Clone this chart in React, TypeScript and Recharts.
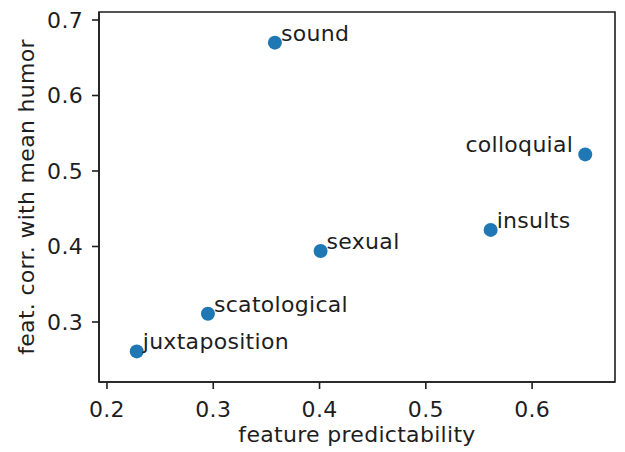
import { ScatterChart, Scatter, XAxis, YAxis, ReferenceArea } from "recharts";

const features = ["sound", "colloquial", "insults", "sexual", "scatological", "juxtaposition"];
const predictability = [0.358, 0.65, 0.561, 0.401, 0.295, 0.228];
const humorCorr = [0.67, 0.522, 0.422, 0.394, 0.311, 0.261];
const xTicks = [0.2, 0.3, 0.4, 0.5, 0.6];
const yTicks = [0.3, 0.4, 0.5, 0.6, 0.7];

const data = features.map((name, i) => ({ name, x: predictability[i], y: humorCorr[i] }));

// labels drawn to the left of the point instead of the right
const leftLabels = ["colloquial"];

const FONT = "'DejaVu Sans', sans-serif";
const TEXT = "#1e1e1e";
const fontStyle = { fontFamily: FONT, fontSize: 22, letterSpacing: 0.3 };

const Dot = (props: any) => {
  const { cx, cy, payload } = props;
  const left = leftLabels.includes(payload.name);
  return (
    <g>
      <circle cx={cx} cy={cy} r={7} fill="#1f77b4" />
      <text
        x={left ? cx - 12 : cx + 6}
        y={cy - 2}
        textAnchor={left ? "end" : "start"}
        fill={TEXT}
        style={fontStyle}
      >
        {payload.name}
      </text>
    </g>
  );
};

const XLabel = ({ viewBox }: any) => (
  <text x={viewBox.x + viewBox.width / 2} y={viewBox.y + 60} textAnchor="middle" fill={TEXT} style={fontStyle}>
    feature predictability
  </text>
);

const YLabel = ({ viewBox }: any) => {
  const x = 26;
  const y = viewBox.y + viewBox.height / 2;
  return (
    <text x={x} y={y} textAnchor="middle" dominantBaseline="central" transform={`rotate(-90, ${x}, ${y})`} fill={TEXT} style={fontStyle}>
      feat. corr. with mean humor
    </text>
  );
};

export default function App() {
  return (
    <div style={{ position: "absolute", left: 0, top: 0, background: "#fff" }}>
      <ScatterChart width={625} height={452} margin={{ top: 12, right: 10, bottom: 10, left: 39 }}>
        <XAxis
          type="number"
          dataKey="x"
          domain={[0.1925, 0.678]}
          ticks={xTicks}
          tickFormatter={(v: number) => v.toFixed(1)}
          height={60}
          tickSize={7}
          tickMargin={12}
          axisLine={{ stroke: TEXT, strokeWidth: 1.6 }}
          tickLine={{ stroke: TEXT, strokeWidth: 1.6 }}
          tick={{ fill: TEXT, ...fontStyle }}
          label={<XLabel />}
        />
        <YAxis
          type="number"
          dataKey="y"
          domain={[0.2205, 0.7106]}
          ticks={yTicks}
          tickFormatter={(v: number) => v.toFixed(1)}
          width={60}
          tickSize={7}
          tickMargin={9}
          axisLine={{ stroke: TEXT, strokeWidth: 1.6 }}
          tickLine={{ stroke: TEXT, strokeWidth: 1.6 }}
          tick={{ fill: TEXT, ...fontStyle }}
          label={<YLabel />}
        />
        <ReferenceArea x1={0.1925} x2={0.678} y1={0.2205} y2={0.7106} fill="none" stroke={TEXT} strokeWidth={1.6} />
        <Scatter data={data} shape={<Dot />} isAnimationActive={false} />
      </ScatterChart>
    </div>
  );
}
